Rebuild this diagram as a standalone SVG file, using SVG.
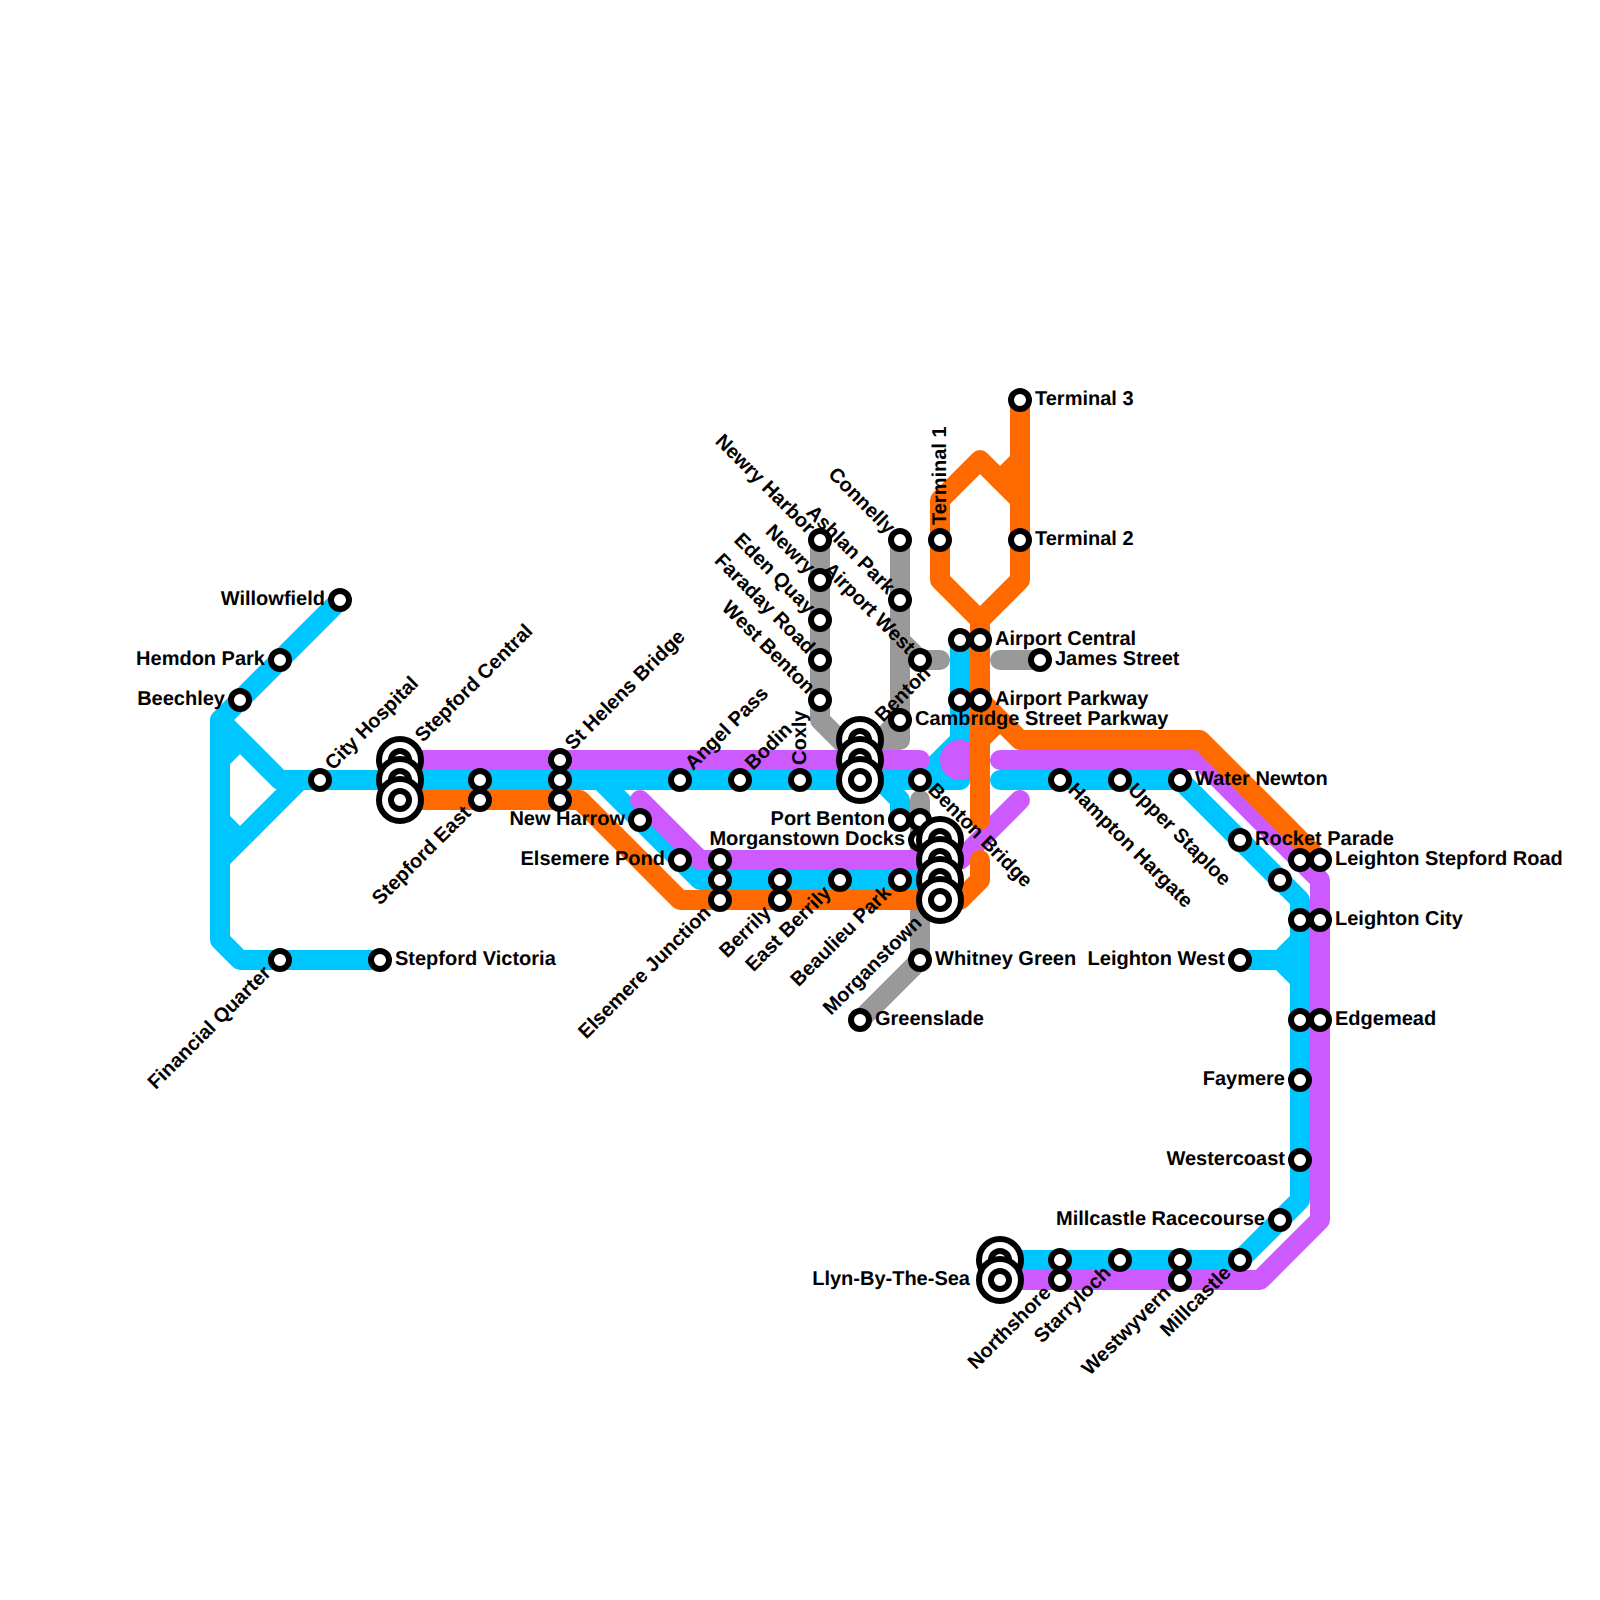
<svg xmlns="http://www.w3.org/2000/svg" width="1600" height="1600" viewBox="0 0 1600 1600">
<style>
.l{fill:none;stroke-width:20;stroke-linecap:round;stroke-linejoin:round}
.g{stroke:#999}.c{stroke:#00c6ff}.p{stroke:#cc5aff}.o{stroke:#ff6a00}
.s{fill:#fff;stroke:#000;stroke-width:6}
text{font-family:"Liberation Sans",Arial,sans-serif;font-weight:700;font-size:20px;fill:#000;text-rendering:geometricPrecision}
.e{text-anchor:end}
</style>
<rect width="1600" height="1600" fill="#fff"/>
<g id="connectors">
<g class="l g">
<path d="M820 540V720L860 760"/><path d="M900 540V740M860 740H900M860 760L900 720"/><path d="M900 640L920 660H940"/><path d="M1000 660H1040"/><path d="M920 800V960L860 1020"/>
</g>
<g class="l c">
<path d="M340 600L220 720V940L240 960H380"/><path d="M220 720L280 780M220 860L300 780M220 760L240 740M220 820L240 840"/>
<path d="M280 780H960M880 780L900 800V820"/><path d="M600 780L700 880H920"/>
<path d="M960 640V780M960 740L920 780"/>
<path d="M1000 780H1180L1300 900V1200L1240 1260H1000"/><path d="M1240 960H1280L1300 940M1280 960L1300 980"/>
</g>
<g class="l p">
<path d="M400 760H920"/><circle cx="960" cy="760" r="10"/>
<path d="M1000 760H1200L1320 880V1220L1260 1280H1000"/><path d="M640 800L700 860H960L1020 800"/>
</g>
<g class="l o">
<path d="M400 800H580L680 900H960L980 880V860"/>
<path d="M980 820V620L940 580V500L980 460L1020 500V580L980 620"/><path d="M1020 400V500M1000 480L1020 460"/>
<path d="M980 700L1020 740H1200L1320 860M980 740L1000 720"/>
</g>
</g>
<g id="willowfield"><circle class="s" cx="340" cy="600" r="9"/><text class="e" x="325" y="605">Willowfield</text></g>
<g id="hemdon-park"><circle class="s" cx="280" cy="660" r="9"/><text class="e" x="265" y="665">Hemdon Park</text></g>
<g id="beechley"><circle class="s" cx="240" cy="700" r="9"/><text class="e" x="225" y="705">Beechley</text></g>
<g id="city-hospital"><circle class="s" cx="320" cy="780" r="9"/><text transform="translate(333 771) rotate(-45)">City Hospital</text></g>
<g id="financial-quarter"><circle class="s" cx="280" cy="960" r="9"/><text class="e" transform="translate(272 974) rotate(-45)">Financial Quarter</text></g>
<g id="stepford-victoria"><circle class="s" cx="380" cy="960" r="9"/><text x="395" y="965">Stepford Victoria</text></g>
<g id="stepford-central"><circle class="s" cx="400" cy="760" r="21"/><circle class="s" cx="400" cy="760" r="9"/><circle class="s" cx="400" cy="780" r="21"/><circle class="s" cx="400" cy="780" r="9"/><circle class="s" cx="400" cy="800" r="21"/><circle class="s" cx="400" cy="800" r="9"/><text transform="translate(423 743) rotate(-45)">Stepford Central</text></g>
<g id="stepford-east"><circle class="s" cx="480" cy="780" r="9"/><circle class="s" cx="480" cy="800" r="9"/><text class="e" transform="translate(472 814) rotate(-45)">Stepford East</text></g>
<g id="st-helens-bridge"><circle class="s" cx="560" cy="760" r="9"/><circle class="s" cx="560" cy="780" r="9"/><circle class="s" cx="560" cy="800" r="9"/><text transform="translate(573 751) rotate(-45)">St Helens Bridge</text></g>
<g id="new-harrow"><circle class="s" cx="640" cy="820" r="9"/><text class="e" x="625" y="825">New Harrow</text></g>
<g id="elsemere-pond"><circle class="s" cx="680" cy="860" r="9"/><text class="e" x="665" y="865">Elsemere Pond</text></g>
<g id="angel-pass"><circle class="s" cx="680" cy="780" r="9"/><text transform="translate(693 771) rotate(-45)">Angel Pass</text></g>
<g id="bodin"><circle class="s" cx="740" cy="780" r="9"/><text transform="translate(753 771) rotate(-45)">Bodin</text></g>
<g id="coxly"><circle class="s" cx="800" cy="780" r="9"/><text transform="translate(806 765) rotate(-90)">Coxly</text></g>
<g id="elsemere-junction"><circle class="s" cx="720" cy="860" r="9"/><circle class="s" cx="720" cy="880" r="9"/><circle class="s" cx="720" cy="900" r="9"/><text class="e" transform="translate(712 914) rotate(-45)">Elsemere Junction</text></g>
<g id="berrily"><circle class="s" cx="780" cy="880" r="9"/><circle class="s" cx="780" cy="900" r="9"/><text class="e" transform="translate(772 914) rotate(-45)">Berrily</text></g>
<g id="east-berrily"><circle class="s" cx="840" cy="880" r="9"/><text class="e" transform="translate(832 894) rotate(-45)">East Berrily</text></g>
<g id="beaulieu-park"><circle class="s" cx="900" cy="880" r="9"/><text class="e" transform="translate(892 894) rotate(-45)">Beaulieu Park</text></g>
<g id="newry-harbor"><circle class="s" cx="820" cy="540" r="9"/><text class="e" transform="translate(807 535) rotate(45)">Newry Harbor</text></g>
<g id="newry"><circle class="s" cx="820" cy="580" r="9"/><text class="e" transform="translate(807 575) rotate(45)">Newry</text></g>
<g id="eden-quay"><circle class="s" cx="820" cy="620" r="9"/><text class="e" transform="translate(807 615) rotate(45)">Eden Quay</text></g>
<g id="faraday-road"><circle class="s" cx="820" cy="660" r="9"/><text class="e" transform="translate(807 655) rotate(45)">Faraday Road</text></g>
<g id="west-benton"><circle class="s" cx="820" cy="700" r="9"/><text class="e" transform="translate(807 695) rotate(45)">West Benton</text></g>
<g id="connelly"><circle class="s" cx="900" cy="540" r="9"/><text class="e" transform="translate(887 535) rotate(45)">Connelly</text></g>
<g id="ashlan-park"><circle class="s" cx="900" cy="600" r="9"/><text class="e" transform="translate(887 595) rotate(45)">Ashlan Park</text></g>
<g id="airport-west"><circle class="s" cx="920" cy="660" r="9"/><text class="e" transform="translate(907 655) rotate(45)">Airport West</text></g>
<g id="cambridge-street-parkway"><circle class="s" cx="900" cy="720" r="9"/><text x="915" y="725">Cambridge Street Parkway</text></g>
<g id="benton"><circle class="s" cx="860" cy="740" r="21"/><circle class="s" cx="860" cy="740" r="9"/><circle class="s" cx="860" cy="760" r="21"/><circle class="s" cx="860" cy="760" r="9"/><circle class="s" cx="860" cy="780" r="21"/><circle class="s" cx="860" cy="780" r="9"/><text transform="translate(883 723) rotate(-45)">Benton</text></g>
<g id="port-benton"><circle class="s" cx="900" cy="820" r="9"/><text class="e" x="885" y="825">Port Benton</text></g>
<g id="benton-bridge-lower"><circle class="s" cx="920" cy="820" r="9"/></g>
<g id="morganstown-docks"><circle class="s" cx="920" cy="840" r="9"/><text class="e" x="905" y="845">Morganstown Docks</text></g>
<g id="morganstown"><circle class="s" cx="940" cy="840" r="21"/><circle class="s" cx="940" cy="840" r="9"/><circle class="s" cx="940" cy="860" r="21"/><circle class="s" cx="940" cy="860" r="9"/><circle class="s" cx="940" cy="880" r="21"/><circle class="s" cx="940" cy="880" r="9"/><circle class="s" cx="940" cy="900" r="21"/><circle class="s" cx="940" cy="900" r="9"/><text class="e" transform="translate(923 924) rotate(-45)">Morganstown</text></g>
<g id="benton-bridge"><circle class="s" cx="920" cy="780" r="9"/><text transform="translate(927 791) rotate(45)">Benton Bridge</text></g>
<g id="whitney-green"><circle class="s" cx="920" cy="960" r="9"/><text x="935" y="965">Whitney Green</text></g>
<g id="greenslade"><circle class="s" cx="860" cy="1020" r="9"/><text x="875" y="1025">Greenslade</text></g>
<g id="terminal-1"><circle class="s" cx="940" cy="540" r="9"/><text transform="translate(946 525) rotate(-90)">Terminal 1</text></g>
<g id="terminal-2"><circle class="s" cx="1020" cy="540" r="9"/><text x="1035" y="545">Terminal 2</text></g>
<g id="terminal-3"><circle class="s" cx="1020" cy="400" r="9"/><text x="1035" y="405">Terminal 3</text></g>
<g id="airport-central"><circle class="s" cx="960" cy="640" r="9"/><circle class="s" cx="980" cy="640" r="9"/><text x="995" y="645">Airport Central</text></g>
<g id="airport-parkway"><circle class="s" cx="960" cy="700" r="9"/><circle class="s" cx="980" cy="700" r="9"/><text x="995" y="705">Airport Parkway</text></g>
<g id="james-street"><circle class="s" cx="1040" cy="660" r="9"/><text x="1055" y="665">James Street</text></g>
<g id="hampton-hargate"><circle class="s" cx="1060" cy="780" r="9"/><text transform="translate(1067 791) rotate(45)">Hampton Hargate</text></g>
<g id="upper-staploe"><circle class="s" cx="1120" cy="780" r="9"/><text transform="translate(1127 791) rotate(45)">Upper Staploe</text></g>
<g id="water-newton"><circle class="s" cx="1180" cy="780" r="9"/><text x="1195" y="785">Water Newton</text></g>
<g id="rocket-parade"><circle class="s" cx="1240" cy="840" r="9"/><text x="1255" y="845">Rocket Parade</text></g>
<g id="unnamed-stop"><circle class="s" cx="1280" cy="880" r="9"/></g>
<g id="leighton-stepford-road"><circle class="s" cx="1300" cy="860" r="9"/><circle class="s" cx="1320" cy="860" r="9"/><text x="1335" y="865">Leighton Stepford Road</text></g>
<g id="leighton-city"><circle class="s" cx="1300" cy="920" r="9"/><circle class="s" cx="1320" cy="920" r="9"/><text x="1335" y="925">Leighton City</text></g>
<g id="leighton-west"><circle class="s" cx="1240" cy="960" r="9"/><text class="e" x="1225" y="965">Leighton West</text></g>
<g id="edgemead"><circle class="s" cx="1300" cy="1020" r="9"/><circle class="s" cx="1320" cy="1020" r="9"/><text x="1335" y="1025">Edgemead</text></g>
<g id="faymere"><circle class="s" cx="1300" cy="1080" r="9"/><text class="e" x="1285" y="1085">Faymere</text></g>
<g id="westercoast"><circle class="s" cx="1300" cy="1160" r="9"/><text class="e" x="1285" y="1165">Westercoast</text></g>
<g id="millcastle-racecourse"><circle class="s" cx="1280" cy="1220" r="9"/><text class="e" x="1265" y="1225">Millcastle Racecourse</text></g>
<g id="millcastle"><circle class="s" cx="1240" cy="1260" r="9"/><text class="e" transform="translate(1232 1274) rotate(-45)">Millcastle</text></g>
<g id="westwyvern"><circle class="s" cx="1180" cy="1260" r="9"/><circle class="s" cx="1180" cy="1280" r="9"/><text class="e" transform="translate(1172 1294) rotate(-45)">Westwyvern</text></g>
<g id="starryloch"><circle class="s" cx="1120" cy="1260" r="9"/><text class="e" transform="translate(1112 1274) rotate(-45)">Starryloch</text></g>
<g id="northshore"><circle class="s" cx="1060" cy="1260" r="9"/><circle class="s" cx="1060" cy="1280" r="9"/><text class="e" transform="translate(1052 1294) rotate(-45)">Northshore</text></g>
<g id="llyn-by-the-sea"><circle class="s" cx="1000" cy="1260" r="21"/><circle class="s" cx="1000" cy="1260" r="9"/><circle class="s" cx="1000" cy="1280" r="21"/><circle class="s" cx="1000" cy="1280" r="9"/><text class="e" x="970" y="1285">Llyn-By-The-Sea</text></g>
</svg>
